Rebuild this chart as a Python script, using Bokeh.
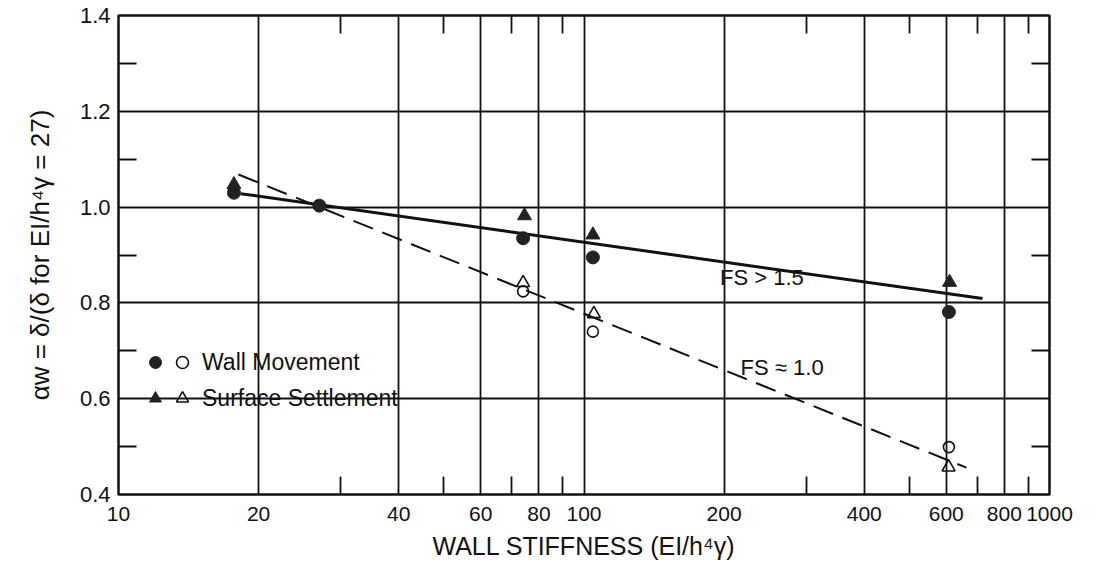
from bokeh.plotting import figure
from bokeh.models import (FixedTicker, LogAxis, LinearAxis, Legend, LegendItem,
                          Range1d, PrintfTickFormatter)
from bokeh.core.properties import value
from bokeh.embed import file_html
from bokeh.resources import INLINE

# ---- axis ticks ----
x_major = [10, 20, 40, 60, 80, 100, 200, 400, 600, 800, 1000]
x_minor = [30, 50, 70, 90, 300, 500, 700, 900]
y_major = [0.4, 0.6, 0.8, 1.0, 1.2, 1.4]
y_minor = [0.5, 0.7, 0.9, 1.1, 1.3]

# ---- data ----
# FS > 1.5 (filled symbols)
wall_fs15_x = [17.7, 27, 74, 104.5, 608]
wall_fs15_y = [1.030, 1.003, 0.935, 0.895, 0.781]
surf_fs15_x = [17.7, 74.5, 104.5, 610]
surf_fs15_y = [1.047, 0.982, 0.942, 0.843]
# FS ~ 1.0 (open symbols)
wall_fs10_x = [74, 104.5, 608]
wall_fs10_y = [0.824, 0.740, 0.499]
surf_fs10_x = [74, 105, 607]
surf_fs10_y = [0.842, 0.777, 0.457]
# fitted lines
fit_fs15_x = [18.3, 718]
fit_fs15_y = [1.028, 0.809]
fit_fs10_x = [18.1, 663]
fit_fs10_y = [1.068, 0.456]

FONT = "Liberation Sans"
INK = "#111111"

p = figure(width=1100, height=568, x_axis_type="log",
           x_range=Range1d(10, 1000), y_range=Range1d(0.4, 1.4),
           output_backend="svg", toolbar_location=None,
           min_border_left=118, min_border_right=51,
           min_border_top=15, min_border_bottom=74)

p.background_fill_color = "white"
p.border_fill_color = "white"
p.outline_line_color = INK
p.outline_line_width = 2.5

# grids
p.xgrid.ticker = FixedTicker(ticks=x_major)
p.ygrid.ticker = FixedTicker(ticks=y_major)
for g in (p.xgrid, p.ygrid):
    g.grid_line_color = INK
    g.grid_line_width = 1.8
    g.grid_line_alpha = 1.0

# bottom axis
xa = p.xaxis[0]
xa.ticker = FixedTicker(ticks=x_major, minor_ticks=x_minor)
xa.formatter = PrintfTickFormatter(format="%d")
xa.axis_label = "WALL STIFFNESS (EI/h\u2074\u03b3)"
# left axis
ya = p.yaxis[0]
ya.ticker = FixedTicker(ticks=y_major, minor_ticks=y_minor)
ya.formatter = PrintfTickFormatter(format="%.1f")
ya.axis_label = "\u03b1w = \u03b4/(\u03b4 for EI/h\u2074\u03b3 = 27)"

for ax in (xa, ya):
    ax.axis_line_color = None
    ax.major_tick_in = 0
    ax.major_tick_out = 0
    ax.minor_tick_in = 18
    ax.minor_tick_out = 0
    ax.minor_tick_line_color = INK
    ax.minor_tick_line_width = 1.8
    ax.major_label_text_font = FONT
    ax.major_label_text_color = INK
    ax.axis_label_text_font = FONT
    ax.axis_label_text_font_style = "normal"
    ax.axis_label_text_color = INK

xa.major_label_text_font_size = "21px"
xa.major_label_standoff = 12
xa.axis_label_standoff = 8
xa.axis_label_text_font_size = "25px"
ya.major_label_text_font_size = "22px"
ya.major_label_standoff = 8
ya.axis_label_standoff = 22
ya.axis_label_text_font_size = "26px"

# top and right axes: only inward minor ticks
top = LogAxis(ticker=FixedTicker(ticks=[], minor_ticks=x_minor))
right = LinearAxis(ticker=FixedTicker(ticks=[], minor_ticks=y_minor))
for ax in (top, right):
    ax.axis_line_color = None
    ax.major_tick_in = 0
    ax.major_tick_out = 0
    ax.minor_tick_in = 18
    ax.minor_tick_out = 0
    ax.minor_tick_line_color = INK
    ax.minor_tick_line_width = 1.8
    ax.major_label_text_font_size = "0px"
    ax.major_label_standoff = 0
p.add_layout(top, "above")
p.add_layout(right, "right")

# fitted lines
p.line(fit_fs15_x, fit_fs15_y, line_color=INK, line_width=3)
p.line(fit_fs10_x, fit_fs10_y, line_color=INK, line_width=2, line_dash="21 10")

# points
r_fc = p.scatter(wall_fs15_x, wall_fs15_y, marker="circle", size=13,
                 fill_color="#222222", line_color="#222222")
r_ft = p.scatter(surf_fs15_x, surf_fs15_y, marker="triangle", size=14,
                 fill_color="#222222", line_color="#222222")
r_oc = p.scatter(wall_fs10_x, wall_fs10_y, marker="circle", size=11,
                 fill_color=None, line_color=INK, line_width=1.6)
r_ot = p.scatter(surf_fs10_x, surf_fs10_y, marker="triangle", size=13,
                 fill_color=None, line_color=INK, line_width=1.6)

# line annotations
p.text(x=[196], y=[0.852], text=["FS > 1.5"], text_font=value(FONT),
       text_font_size="22px", text_color=INK, text_baseline="middle",
       text_align="left")
p.text(x=[217], y=[0.665], text=["FS \u2248 1.0"], text_font=value(FONT),
       text_font_size="22px", text_color=INK, text_baseline="middle",
       text_align="left")

# legend: filled symbol column + open symbol column with labels
def make_legend(items, loc):
    lg = Legend(items=items, location=loc)
    lg.padding = 0
    lg.margin = 0
    lg.spacing = 6
    lg.glyph_width = 30
    lg.glyph_height = 30
    lg.label_standoff = 5
    lg.label_text_font = FONT
    lg.label_text_font_size = "23px"
    lg.label_text_color = INK
    lg.border_line_color = None
    lg.background_fill_alpha = 0
    return lg

leg_a = make_legend([LegendItem(label=" ", renderers=[r_fc]),
                     LegendItem(label=" ", renderers=[r_ft])], (22, 81))
leg_b = make_legend([LegendItem(label="Wall Movement", renderers=[r_oc]),
                     LegendItem(label="Surface Settlement", renderers=[r_ot])], (49, 81))
p.add_layout(leg_a, "center")
p.add_layout(leg_b, "center")

open("out.html", "w").write(file_html(p, INLINE))
